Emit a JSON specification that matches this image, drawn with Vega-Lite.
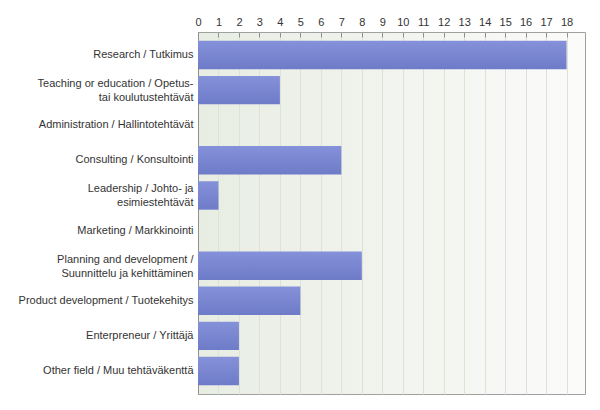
{
  "$schema": "https://vega.github.io/schema/vega-lite/v6.json",
  "width": 387,
  "height": 362,
  "autosize": {"type": "none"},
  "padding": {"left": 198, "top": 32, "right": 15, "bottom": 16},
  "background": "white",
  "config": {
    "font": "Liberation Sans",
    "view": {
      "stroke": "#a0a0a0",
      "strokeWidth": 1,
      "fill": {
        "gradient": "linear",
        "x1": 0, "y1": 0, "x2": 1, "y2": 0,
        "stops": [
          {"offset": 0, "color": "#e8ede3"},
          {"offset": 1, "color": "#fbfbfa"}
        ]
      }
    }
  },
  "data": {
    "values": [
      {"field": "Research / Tutkimus", "count": 18},
      {"field": "Teaching or education / Opetus-\ntai koulutustehtävät", "count": 4},
      {"field": "Administration / Hallintotehtävät", "count": 0},
      {"field": "Consulting / Konsultointi", "count": 7},
      {"field": "Leadership / Johto- ja\nesimiestehtävät", "count": 1},
      {"field": "Marketing / Markkinointi", "count": 0},
      {"field": "Planning and development /\nSuunnittelu ja kehittäminen", "count": 8},
      {"field": "Product development / Tuotekehitys", "count": 5},
      {"field": "Enterpreneur / Yrittäjä", "count": 2},
      {"field": "Other field / Muu tehtäväkenttä", "count": 2}
    ]
  },
  "mark": {
    "type": "bar",
    "color": {
      "gradient": "linear",
      "x1": 0, "y1": 0, "x2": 0, "y2": 1,
      "stops": [
        {"offset": 0, "color": "#8591d9"},
        {"offset": 1, "color": "#6e7bc8"}
      ]
    }
  },
  "encoding": {
    "y": {
      "field": "field",
      "type": "nominal",
      "sort": null,
      "scale": {"paddingInner": 0.19, "paddingOuter": 0.25},
      "axis": {
        "title": null,
        "ticks": false,
        "domain": true,
        "domainColor": "#909090",
        "labelExpr": "split(datum.label, '\\n')",
        "labelOffset": {"condition": {"test": "indexof(datum.value, '\\n') >= 0", "value": -6}, "value": 0},
        "labelFont": "Liberation Sans",
        "labelFontSize": 11,
        "labelColor": "#333333",
        "labelPadding": 5,
        "labelLimit": 300,
        "labelLineHeight": 14
      }
    },
    "x": {
      "field": "count",
      "type": "quantitative",
      "scale": {"domain": [0, 18.9], "nice": false},
      "axis": {
        "orient": "top",
        "title": null,
        "values": [0,1,2,3,4,5,6,7,8,9,10,11,12,13,14,15,16,17,18],
        "tickSize": -5,
        "tickColor": "#909090",
        "domain": false,
        "labelFlush": false,
        "labelFont": "Liberation Sans",
        "labelFontSize": 11,
        "labelColor": "#333333",
        "labelPadding": 10,
        "grid": true,
        "gridColor": "#dde2d6",
        "gridWidth": 1
      }
    }
  }
}
